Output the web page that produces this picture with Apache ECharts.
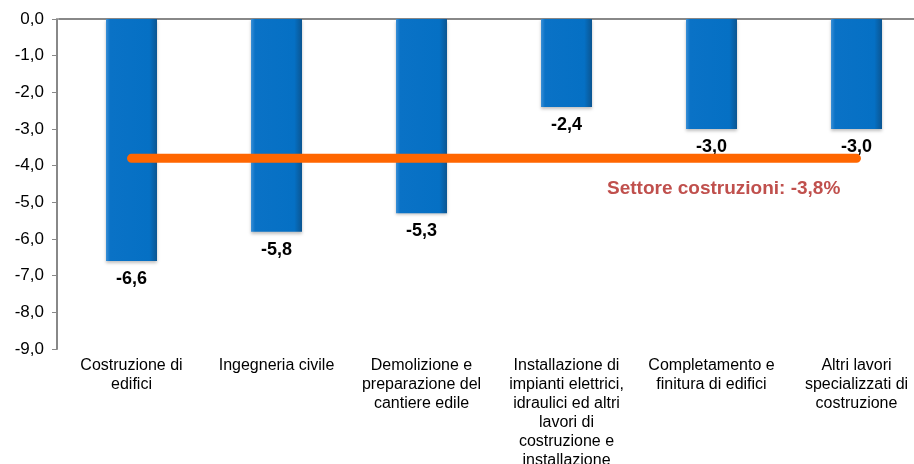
<!DOCTYPE html>
<html>
<head>
<meta charset="utf-8">
<script src="https://cdn.jsdelivr.net/npm/echarts@6/dist/echarts.min.js"></script>
<style>
  html, body { margin: 0; padding: 0; background: #fff; }
  #chart { width: 914px; height: 464px; }
</style>
</head>
<body>
<div id="chart"></div>
<script>
// categorie (a capo come nel grafico originale)
const categories = [
  'Costruzione di\nedifici',
  'Ingegneria civile',
  'Demolizione e\npreparazione del\ncantiere edile',
  'Installazione di\nimpianti elettrici,\nidraulici ed altri\nlavori di\ncostruzione e\ninstallazione',
  'Completamento e\nfinitura di edifici',
  'Altri lavori\nspecializzati di\ncostruzione'
];
// variazioni % per attività
const values = [-6.6, -5.8, -5.3, -2.4, -3.0, -3.0];
// media del settore costruzioni
const sectorAvg = [-3.8, -3.8, -3.8, -3.8, -3.8, -3.8];
const sectorLabel = 'Settore costruzioni: -3,8%';

const fmt = v => v.toFixed(1).replace('.', ',');
const FONT = '"Liberation Sans", Arial, sans-serif';

const chart = echarts.init(document.getElementById('chart'));

const option = {
  animation: false,
  textStyle: { fontFamily: FONT },
  grid: { left: 59, top: 19, width: 870, height: 330, outerBoundsMode: 'none' },
  xAxis: [
    {
      type: 'category',
      data: categories,
      position: 'bottom',
      axisLine: { show: false, onZero: false },
      axisTick: { show: false },
      axisLabel: {
        color: '#000', fontSize: 16, lineHeight: 19, margin: 7,
        fontFamily: FONT, interval: 0
      }
    },
    {
      type: 'category',
      data: categories,
      position: 'top',
      axisLine: { show: true, lineStyle: { color: '#888', width: 2 } },
      axisTick: { show: false },
      axisLabel: { show: false }
    }
  ],
  yAxis: {
    type: 'value',
    min: -9, max: 0, interval: 1,
    offset: 2,
    axisLine: { show: true, lineStyle: { color: '#888', width: 2 } },
    axisTick: { show: true, length: 5, lineStyle: { color: '#888', width: 1 } },
    splitLine: { show: false },
    axisLabel: {
      color: '#000', fontSize: 17, margin: 13, fontFamily: FONT,
      formatter: v => fmt(v)
    }
  },
  series: [
    {
      type: 'bar',
      data: values,
      barWidth: 51,
      itemStyle: {
        color: new echarts.graphic.LinearGradient(0, 0, 1, 0, [
          { offset: 0, color: '#3a8fd6' },
          { offset: 0.08, color: '#0a72c6' },
          { offset: 0.85, color: '#0570c4' },
          { offset: 1, color: '#0b5591' }
        ]),
        shadowColor: 'rgba(0,0,0,0.25)', shadowBlur: 3, shadowOffsetY: 2
      },
      label: {
        show: true, position: 'bottom', distance: 9,
        color: '#000', fontSize: 18, fontWeight: 'bold', fontFamily: FONT,
        formatter: p => fmt(p.value)
      },
      z: 2
    },
    {
      type: 'line',
      data: sectorAvg,
      symbol: 'none',
      lineStyle: { color: '#FF6600', width: 9, cap: 'round' },
      z: 3
    }
  ],
  graphic: [
    {
      type: 'text',
      left: 607, top: 179,
      style: {
        text: sectorLabel,
        fill: '#C0504D',
        font: 'bold 19px ' + FONT
      }
    }
  ]
};

chart.setOption(option);
</script>
</body>
</html>
